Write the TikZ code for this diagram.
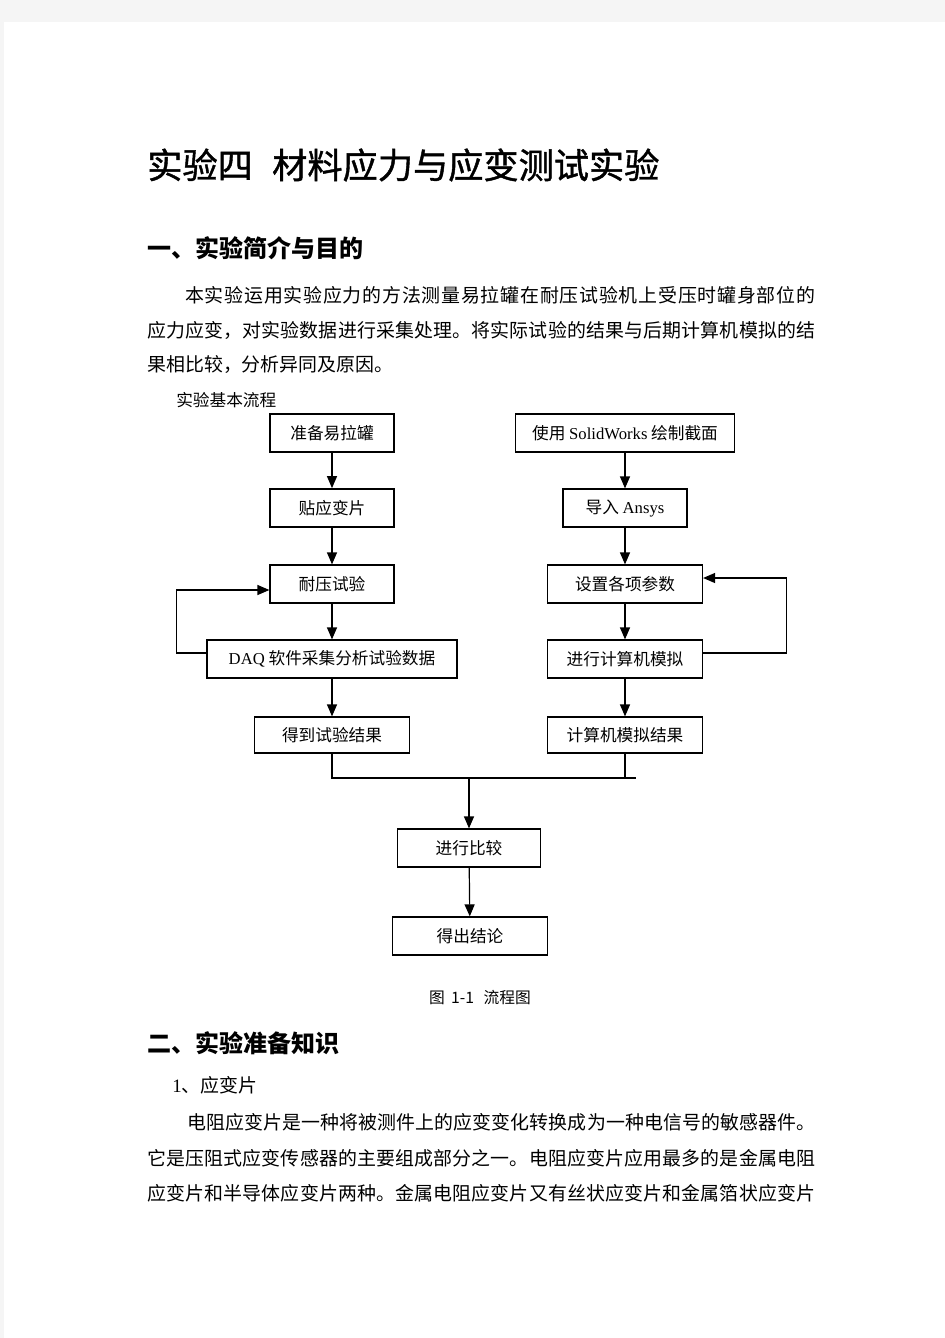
\documentclass[tikz,border=0pt]{standalone}
\usepackage{fontspec}
\setmainfont{Liberation Serif}
\newfontfamily\cjk{Noto Sans CJK SC}
\newfontfamily\cjktitle{Noto Sans CJK SC}[FakeBold=1.2]
\usetikzlibrary{arrows.meta,calc}
\XeTeXlinebreaklocale "zh"
\XeTeXlinebreakskip=0pt plus 2pt
\newcommand{\jline}[2]{\parbox{#1}{\parfillskip=0pt #2\par}}

\begin{document}
\begin{tikzpicture}[x=0.75pt,y=-0.75pt,
    box/.style={draw,line width=0.9pt,minimum width=#1*0.75pt,minimum height=28.5pt,inner sep=0pt,font=\fontsize{12.5}{15}\selectfont\cjk},
    arr/.style={line width=0.9pt,-{Triangle[length=9pt,width=7.5pt]}},
    line/.style={line width=0.9pt},
    txt/.style={anchor=west,inner sep=0pt,font=\fontsize{14.2}{17}\selectfont\cjk},
    head/.style={anchor=west,inner sep=0pt,font=\fontsize{18}{21}\selectfont\cjk\bfseries}]
    \useasboundingbox (0,0) rectangle (945,1338);
    \fill[black!4] (0,0) rectangle (945,1338);
    \fill[white] (4,22) rectangle (945,1338);

    % page text
    \node[anchor=west,inner sep=0pt,font=\fontsize{26.4}{30}\selectfont\cjktitle] (title) at (147,165) {实验四\hspace{0.55em}材料应力与应变测试实验};
    \node[head] (secA) at (147,248) {一、实验简介与目的};
    \node[txt] (introA) at (185,295) {\jline{472.5pt}{本实验运用实验应力的方法测量易拉罐在耐压试验机上受压时罐身部位的}};
    \node[txt] (introB) at (147,330) {\jline{501pt}{应力应变，对实验数据进行采集处理。将实际试验的结果与后期计算机模拟的结}};
    \node[txt] (introC) at (147,365) {果相比较，分析异同及原因。};
    \node[anchor=west,inner sep=0pt,font=\fontsize{12.5}{15}\selectfont\cjk] (flowlbl) at (176,400) {实验基本流程};

    % flow chart
    \node[box=124] (prep) at (332,433) {准备易拉罐};
    \node[box=124,line width=1.3pt] (gauge) at (332,508) {贴应变片};
    \node[box=124] (press) at (332,584) {耐压试验};
    \node[box=250] (daq) at (332,659) {{\rmfamily DAQ} 软件采集分析试验数据};
    \node[box=155,minimum height=27pt] (expres) at (332,735) {得到试验结果};
    \node[box=219] (sw) at (625,433) {使用 {\rmfamily SolidWorks} 绘制截面};
    \node[box=124] (ansys) at (625,508) {导入 {\rmfamily Ansys}};
    \node[box=155] (param) at (625,584) {设置各项参数};
    \node[box=155] (sim) at (625,659) {进行计算机模拟};
    \node[box=155,minimum height=27pt] (simres) at (625,735) {计算机模拟结果};
    \node[box=143] (cmp) at (469,848) {进行比较};
    \node[box=155] (concl) at (470,936) {得出结论};

    \draw[arr] (prep) -- (gauge);
    \draw[arr] (gauge) -- (press);
    \draw[arr] (press) -- (daq);
    \draw[arr] (daq) -- (expres);
    \draw[arr] (sw) -- (ansys);
    \draw[arr] (ansys) -- (param);
    \draw[arr] (param) -- (sim);
    \draw[arr] (sim) -- (simres);
    \draw[arr] ($(daq.west)+(0,-6)$) -- ++(-30,0) |- ($(press.west)+(0,6)$);
    \draw[arr] ($(sim.east)+(0,-6)$) -- ++(83,0) |- ($(param.east)+(0,-6)$);

    \coordinate (joinR) at (636,778);
    \coordinate (join) at (cmp.north |- joinR);
    \draw[line] (expres.south) |- (joinR);
    \draw[line] (simres.south) -- (simres.south |- joinR);
    \draw[arr] (join) -- (cmp);
    \draw[arr] (cmp) -- (concl);

    \node[inner sep=0pt,font=\fontsize{11.8}{14}\selectfont\cjk] (caption) at (480,998) {图\hspace{0.4em}1-1\hspace{0.6em}流程图};

    \node[head] (secB) at (147,1043) {二、实验准备知识};
    \node[txt] (subA) at (172,1085) {{\rmfamily 1}、应变片};
    \node[txt] (paraA) at (187,1122) {\jline{471pt}{电阻应变片是一种将被测件上的应变变化转换成为一种电信号的敏感器件。}};
    \node[txt] (paraB) at (147,1158) {\jline{501pt}{它是压阻式应变传感器的主要组成部分之一。电阻应变片应用最多的是金属电阻}};
    \node[txt] (paraC) at (147,1193) {\jline{501pt}{应变片和半导体应变片两种。金属电阻应变片又有丝状应变片和金属箔状应变片}};
\end{tikzpicture}
\end{document}
